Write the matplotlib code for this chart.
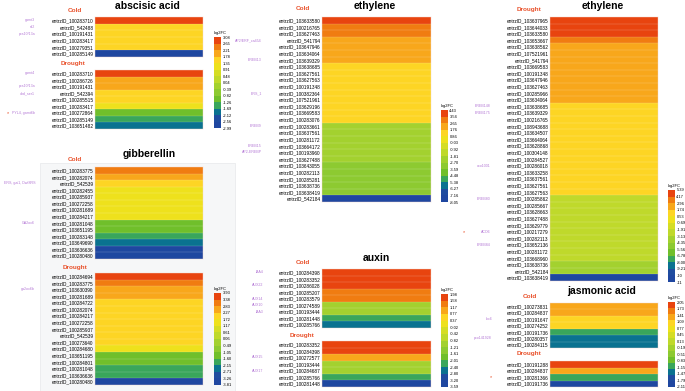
import numpy as np
import matplotlib
matplotlib.use("Agg")
import matplotlib.pyplot as plt
import matplotlib.transforms as mtransforms
from matplotlib.colors import ListedColormap, Normalize
from matplotlib.cm import ScalarMappable
from matplotlib.patches import Rectangle

plt.rcParams['font.family'] = ['Liberation Sans', 'DejaVu Sans']

W, H = 685, 391

# ---- data (log2FC) ----
aba_cold_ids = ["100283710", "542488", "100191431", "100283417", "100279351", "100285149"]
aba_cold_fc = [2.95, 1.55, 1.5, 1.45, 1.4, -2.9]
aba_drought_ids = ["100283710", "100286726", "100191431", "542394", "100285515",
                   "100283417", "100272864", "100285149", "103651482"]
aba_drought_fc = [2.9, 2.0, 1.95, 1.6, 1.5, 1.2, -1.0, -1.5, -2.0]
aba_lim = (-2.99, 3.08)
aba_ticks = ["3.08", "2.65", "2.21", "1.78", "1.35", "0.91", "0.48", "0.04",
             "-0.39", "-0.82", "-1.26", "-1.69", "-2.12", "-2.56", "-2.99"]
aba_cold_genes = {0: "gamt3", 1: "rd2", 2: "pcs10/13a"}
aba_drought_genes = {0: "gamt4", 2: "pcs10/13a", 3: "xbd_ser1", 6: "PYL4, gamt6b"}
aba_drought_stars = [6]

ga_cold_ids = ["100283775", "100282074", "542539", "100282455", "100285937", "100272258",
               "100281689", "100284217", "100281048", "103651195", "100283148",
               "103649690", "103636636", "100280480"]
ga_cold_fc = [3.1, 2.5, 2.0, 1.6, 1.55, 1.5, 1.45, 1.4, -1.3, -1.4, -1.9, -2.4, -3.5, -3.7]
ga_drought_ids = ["100284694", "100283775", "103630390", "100281689", "100284722",
                  "100282074", "100284217", "100272258", "100285937", "542539",
                  "100273640", "100284680", "103651195", "100284801", "100281048",
                  "103636636", "100280480"]
ga_drought_fc = [3.8, 3.2, 2.6, 2.5, 2.2, 2.15, 2.1, 2.05, 2.0, 1.95, 1.9, 1.5,
                 -1.3, -1.4, -1.9, -2.0, -3.7]
ga_lim = (-3.81, 3.93)
ga_ticks = ["3.93", "3.38", "2.83", "2.27", "1.72", "1.17", "0.61", "0.06",
            "-0.49", "-1.05", "-1.60", "-2.15", "-2.71", "-3.26", "-3.81"]
ga_cold_genes = {2: "ERS, gai1, Dwf8RS", 8: "GA2ox6"}
ga_drought_genes = {2: "ga2ox6b"}

eth_cold_ids = ["103633580", "100216765", "103627463", "541794", "103647946", "103634064",
                "103639329", "103638685", "103627561", "103627563", "100191348",
                "100382364", "107521961", "103629196", "103669583", "100283076",
                "100283661", "103637561", "100281172", "103664172", "100193960",
                "103627488", "103643055", "100282113", "100285281", "103638736",
                "103638419", "542184"]
eth_cold_fc = [4.2, 3.2, 3.0, 2.4, 2.3, 2.2, 2.1, 1.6, 1.55, 1.5, 1.45, 1.4, 1.35, 1.3,
               1.2, 1.1, -2.0, -2.1, -2.2, -2.3, -2.4, -2.5, -2.8, -2.9, -3.0, -3.1,
               -3.2, -7.9]
eth_cold_lim = (-8.05, 4.43)
eth_cold_ticks = ["4.43", "3.54", "2.65", "1.76", "0.86", "-0.03", "-0.92", "-1.81",
                  "-2.70", "-3.59", "-4.48", "-5.38", "-6.27", "-7.16", "-8.05"]
eth_cold_genes = {3: "AP2/ERF_ca454", 6: "EREB13", 11: "ERS_1", 16: "EREB9",
                  19: "EREB15", 20: "AP2-EREBP"}

aux_cold_ids = ["100284398", "100283352", "100286028", "100285207", "100283579",
                "100274589", "100193444", "100281448", "100285766"]
aux_cold_fc = [1.9, 1.8, 1.7, 1.4, 1.3, -0.9, -1.0, -2.2, -2.6]
aux_drought_ids = ["100283352", "100284398", "100272577", "100193444", "100284687",
                   "100285766", "100281448"]
aux_drought_fc = [1.9, 1.75, 1.0, -0.9, -1.0, -2.2, -3.5]
aux_lim = (-3.59, 1.98)
aux_ticks = ["1.98", "1.58", "1.17", "0.77", "0.37", "-0.02", "-0.42", "-0.82",
             "-1.21", "-1.61", "-2.01", "-2.40", "-2.80", "-3.20", "-3.59"]
aux_cold_genes = {0: "IAA4", 2: "AUX22", 4: "AUX14", 5: "AUX10", 6: "IAA3"}
aux_drought_genes = {2: "AUX15", 4: "AUX17"}

eth_dr_ids = ["103637965", "103644033", "103633580", "103653667", "103638562", "107521961",
              "541794", "103669583", "100191348", "103647946", "103627463", "100285966",
              "103634064", "103638685", "103639329", "100216765", "108943688", "103634507",
              "103664064", "103628868", "100304148", "100284527", "100286018", "103633258",
              "103637561", "103627561", "103627563", "100285862", "100285667", "103628663",
              "103627488", "103629779", "100217279", "100282113", "103652136", "100281172",
              "103668960", "103638736", "542184", "103638419"]
eth_dr_fc = [5.2, 5.0, 4.6, 3.6,
             2.8, 2.7, 2.6, 2.5, 2.4, 2.3, 2.2, 2.1, 2.0,
             1.6, 1.55, 1.5, 1.45, 1.4, 1.35, 1.3, 1.25, 1.2, 1.1, 1.0, 0.9, 0.8, 0.7,
             -2.0, -2.1, -2.2, -2.3, -2.4, -2.5, -2.6, -2.7, -2.8, -2.9,
             -3.4, -3.6, -11.5]
eth_dr_lim = (-11.66, 5.39)
eth_dr_ticks = ["5.39", "4.17", "2.96", "1.74", "0.53", "-0.69", "-1.91", "-3.13",
                "-4.35", "-5.56", "-6.78", "-8.00", "-9.21", "-10", "-11"]
eth_dr_genes = {13: "EREB148", 14: "EREB175", 22: "aco1001", 27: "EREB80",
                32: "ACO6", 34: "EREB84"}
eth_dr_stars = [32]

ja_cold_ids = ["100273831", "100284837", "100191647", "100274252", "100191736",
               "100280357", "100284115"]
ja_cold_fc = [1.35, 1.25, 1.05, 0.95, -1.05, -1.35, -1.45]
ja_drought_ids = ["100191288", "100284837", "100281366", "100191736"]
ja_drought_fc = [2.0, 1.3, -1.05, -2.05]
ja_lim = (-2.11, 2.05)
ja_ticks = ["2.05", "1.73", "1.41", "1.09", "0.77", "0.45", "0.13", "-0.19",
            "-0.51", "-0.83", "-1.15", "-1.47", "-1.79", "-2.11"]
ja_cold_genes = {2: "lox6", 5: "pco141928"}
ja_drought_genes = {}
ja_drought_stars = [2]

# discrete palette, low -> high
cmap = ListedColormap(["#1f47a0", "#1f4c9f", "#0a7290", "#39a65b", "#70bf2b",
                       "#8dca31", "#a3d12f", "#bfd92b", "#d5dd24", "#eee11c",
                       "#fdd524", "#f8a71b", "#f07c11", "#e8440f"])
purple = "#b57ad6"
red_lab = "#e9522c"

fig = plt.figure(figsize=(W / 100, H / 100), dpi=100)

# light panel behind gibberellin
fig.add_artist(Rectangle((40 / W, 0), 195 / W, (391 - 163) / H, transform=fig.transFigure,
                         facecolor="#f6f7f8", edgecolor="#e6e8ea", lw=0.5, zorder=0))


def px_axes(x0, y0, x1, y1):
    return fig.add_axes([x0 / W, 1 - y1 / H, (x1 - x0) / W, (y1 - y0) / H])


def heat(box, ids, fc, lim, genes, gx, stars=()):
    ax = px_axes(*box)
    n = len(fc)
    ax.pcolormesh(np.arange(2), np.arange(n + 1), np.array(fc)[:, None],
                  cmap=cmap, norm=Normalize(*lim), edgecolors="face", linewidth=0)
    # faint row separators
    ax.hlines(np.arange(1, n), 0, 1, colors="white", linewidth=0.25, alpha=0.45)
    ax.set_xlim(0, 1)
    ax.set_ylim(n, 0)
    ax.set_xticks([])
    ax.set_yticks(np.arange(n) + 0.5)
    ax.set_yticklabels(["entrzID_" + s for s in ids], fontsize=3.4)
    ax.tick_params(axis="y", length=0, pad=1)
    for s in ax.spines.values():
        s.set_color("#f3d6cc")
        s.set_linewidth(0.3)
    trans = mtransforms.blended_transform_factory(fig.transFigure, ax.transData)
    for i, name in genes.items():
        ax.text(gx / W, i + 0.5, name, transform=trans, ha="right", va="center",
                fontsize=2.6, color=purple)
    for i in stars:
        ax.text((gx - 27) / W, i + 0.6, "*", transform=trans, ha="center", va="center",
                fontsize=4, color=red_lab)
    return ax


def cbar(box, lim, labels):
    cax = px_axes(*box)
    sm = ScalarMappable(norm=Normalize(*lim), cmap=cmap)
    cb = fig.colorbar(sm, cax=cax)
    cb.outline.set_visible(False)
    cb.set_ticks(np.linspace(lim[1], lim[0], len(labels)))
    cb.set_ticklabels(labels)
    cax.tick_params(labelsize=2.9, length=0, pad=1)
    fig.text(box[0] / W, 1 - (box[1] - 4) / H, "log2FC", fontsize=2.9, va="center")


def title(x, y, s):
    fig.text(x / W, 1 - y / H, s, fontsize=7.5, fontweight="bold", ha="center", va="center")


def cond(x, y, s):
    fig.text(x / W, 1 - y / H, s, fontsize=4.6, fontweight="bold", color=red_lab,
             ha="center", va="center")


# abscisic acid
title(147, 6, "abscisic acid")
cond(75, 11, "Cold")
heat((95, 17, 203, 57), aba_cold_ids, aba_cold_fc, aba_lim, aba_cold_genes, 35)
cond(73, 63, "Drought")
heat((95, 70, 203, 129), aba_drought_ids, aba_drought_fc, aba_lim, aba_drought_genes, 35,
     aba_drought_stars)
cbar((214, 37, 221, 128), aba_lim, aba_ticks)

# gibberellin
title(149, 154, "gibberellin")
cond(75, 160, "Cold")
heat((95, 167, 203, 259), ga_cold_ids, ga_cold_fc, ga_lim, ga_cold_genes, 35)
cond(75, 267, "Drought")
heat((95, 273, 203, 385), ga_drought_ids, ga_drought_fc, ga_lim, ga_drought_genes, 35)
cbar((214, 293, 221, 385), ga_lim, ga_ticks)

# ethylene cold
title(375, 6, "ethylene")
cond(303, 9, "Cold")
heat((322, 17, 431, 202), eth_cold_ids, eth_cold_fc, eth_cold_lim, eth_cold_genes, 262)
cbar((441, 110, 448, 202), eth_cold_lim, eth_cold_ticks)

# auxin
title(376, 258, "auxin")
cond(303, 263, "Cold")
heat((322, 269, 431, 328), aux_cold_ids, aux_cold_fc, aux_lim, aux_cold_genes, 263)
cond(302, 336, "Drought")
heat((322, 341, 431, 387), aux_drought_ids, aux_drought_fc, aux_lim, aux_drought_genes, 263)
cbar((441, 294, 448, 387), aux_lim, aux_ticks)

# ethylene drought
title(603, 6, "ethylene")
cond(529, 10, "Drought")
heat((550, 17, 658, 281), eth_dr_ids, eth_dr_fc, eth_dr_lim, eth_dr_genes, 491, eth_dr_stars)
cbar((668, 190, 675, 282), eth_dr_lim, eth_dr_ticks)

# jasmonic acid
title(602, 291, "jasmonic acid")
cond(530, 297, "Cold")
heat((550, 303, 658, 348), ja_cold_ids, ja_cold_fc, ja_lim, ja_cold_genes, 492)
cond(529, 354, "Drought")
heat((550, 361, 658, 387), ja_drought_ids, ja_drought_fc, ja_lim, ja_drought_genes, 518,
     ja_drought_stars)
cbar((668, 302, 675, 387), ja_lim, ja_ticks)

fig.savefig("out.png", dpi=100)
